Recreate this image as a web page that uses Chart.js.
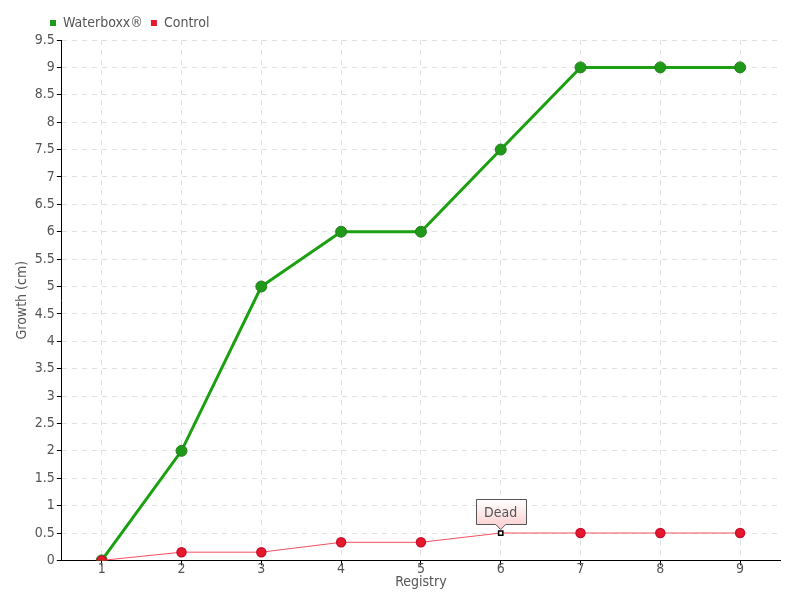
<!DOCTYPE html>
<html>
<head>
<meta charset="utf-8">
<script src="https://cdn.jsdelivr.net/npm/chart.js@4.4.0/dist/chart.umd.min.js"></script>
<style>
  body { margin: 0; background: #fff; }
  #wrap { width: 800px; height: 600px; }
</style>
</head>
<body>
<div id="wrap"><canvas id="grafico" width="800" height="600"></canvas></div>
<script>
const registros = ["1", "2", "3", "4", "5", "6", "7", "8", "9"];
const waterboxx = [0, 2, 5, 6, 6, 7.5, 9, 9, 9];
const control = [0, 0.15, 0.15, 0.33, 0.33, 0.5, 0.5, 0.5, 0.5];
const notaIndice = 5;
const notaTexto = "Dead";

const fuente = "'DejaVu Sans Condensed', 'DejaVu Sans', sans-serif";

// estilo del punto de "Dead"
const estiloControl = control.map((v, i) => i === notaIndice ? "rect" : "circle");
const radioControl = control.map((v, i) => i === notaIndice ? 3 : 4.5);
const fondoControl = control.map((v, i) => i === notaIndice ? "#ffffff" : "#e8182c");
const bordeControl = control.map((v, i) => i === notaIndice ? "#000000" : "#c8102e");

const notaPlugin = {
  id: "nota",
  afterLayout(chart) {
    // mover la leyenda hacia la derecha
    chart.legend.left += 28;
    chart.legend.right += 28;
  },
  afterDatasetsDraw(chart) {
    const ctx = chart.ctx;
    const x = chart.scales.x.getPixelForValue(notaIndice);
    const y = chart.scales.y.getPixelForValue(control[notaIndice]);
    const w = 50, h = 25;
    const left = Math.round(x - w / 2) + 0.5;
    const top = Math.round(y - 34) + 0.5;
    ctx.save();
    const grad = ctx.createLinearGradient(0, top, 0, top + h);
    grad.addColorStop(0, "#ffffff");
    grad.addColorStop(1, "#fcd4d4");
    ctx.beginPath();
    ctx.moveTo(left, top);
    ctx.lineTo(left + w, top);
    ctx.lineTo(left + w, top + h);
    ctx.lineTo(x + 5, top + h);
    ctx.lineTo(x, top + h + 5);
    ctx.lineTo(x - 5, top + h);
    ctx.lineTo(left, top + h);
    ctx.closePath();
    ctx.fillStyle = grad;
    ctx.fill();
    ctx.strokeStyle = "#555";
    ctx.lineWidth = 1;
    ctx.stroke();
    ctx.fillStyle = "#555";
    ctx.font = "14px " + fuente;
    ctx.textAlign = "center";
    ctx.textBaseline = "middle";
    ctx.fillText(notaTexto, x, top + h / 2 + 1);
    ctx.restore();
  }
};

new Chart(document.getElementById("grafico").getContext("2d"), {
  type: "line",
  data: {
    labels: registros,
    datasets: [
      {
        label: "Waterboxx®",
        data: waterboxx,
        borderColor: "#1aa010",
        backgroundColor: "#1e9a18",
        pointBorderColor: "#2a7d20",
        borderWidth: 3,
        pointRadius: 5.5,
        pointBorderWidth: 1,
        tension: 0,
        fill: false,
        order: 1
      },
      {
        label: "Control",
        data: control,
        borderColor: "#f25060",
        backgroundColor: "#e8182c",
        pointBackgroundColor: fondoControl,
        pointBorderColor: bordeControl,
        pointStyle: estiloControl,
        pointRadius: radioControl,
        pointBorderWidth: 1.5,
        borderWidth: 1,
        tension: 0,
        fill: false,
        order: 0
      }
    ]
  },
  options: {
    responsive: false,
    animation: false,
    layout: { padding: { left: 14, right: 20, top: 8, bottom: 9 } },
    plugins: {
      tooltip: { enabled: false },
      legend: {
        position: "top",
        align: "start",
        labels: {
          boxWidth: 6,
          boxHeight: 6,
          padding: 8,
          color: "#555",
          font: { family: fuente, size: 14 },
          generateLabels(chart) {
            return chart.data.datasets.map((d, i) => ({
              text: d.label,
              fillStyle: d.backgroundColor,
              strokeStyle: d.backgroundColor,
              lineWidth: 0,
              datasetIndex: i,
              fontColor: "#555"
            }));
          },
          sort: (a, b) => a.datasetIndex - b.datasetIndex
        }
      }
    },
    scales: {
      x: {
        offset: true,
        grid: { offset: false, color: "#e0e0e0", tickColor: "#000", tickLength: 5, drawTicks: true },
        border: { color: "#000", width: 1, dash: [5, 5] },
        ticks: { color: "#555", font: { family: fuente, size: 14 }, padding: -4 },
        title: { display: true, text: "Registry", color: "#555", font: { family: fuente, size: 14 }, padding: { top: 0, bottom: 0 } }
      },
      y: {
        min: 0,
        max: 9.5,
        ticks: {
          stepSize: 0.5,
          color: "#555",
          font: { family: fuente, size: 14 },
          padding: 2,
          callback: v => String(v)
        },
        grid: { color: "#e0e0e0", tickColor: "#000", tickLength: 5 },
        border: { color: "#000", width: 1, dash: [5, 5] },
        title: { display: true, text: "Growth (cm)", color: "#555", font: { family: fuente, size: 14 }, padding: { top: 0, bottom: 2 } }
      }
    }
  },
  plugins: [notaPlugin]
});
</script>
</body>
</html>
